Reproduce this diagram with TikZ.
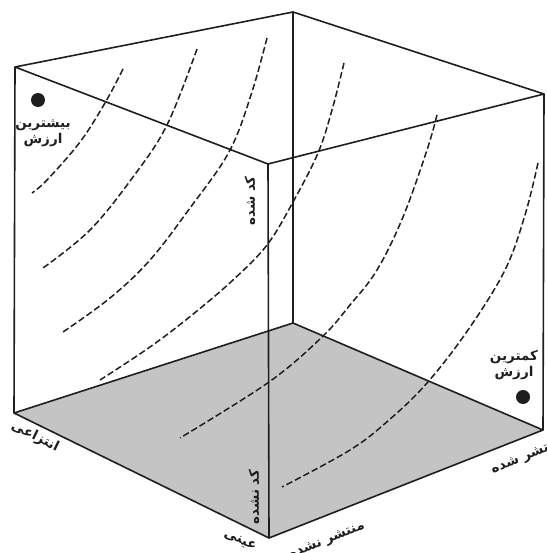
\documentclass[tikz,border=0pt]{standalone}
\usepackage{fontspec}
\newfontfamily\fa[Script=Arabic]{DejaVu Sans}
\TeXXeTstate=1
\definecolor{floorgray}{RGB}{196,196,196}
\definecolor{ink}{RGB}{30,30,30}
\begin{document}
\begin{tikzpicture}[x=1pt,y=-1pt,
  edge/.style={line width=1.6pt, draw=ink, line join=round},
  curve/.style={line width=1.5pt, draw=ink, dash pattern=on 6.5pt off 3pt},
  lbl/.style={font=\fa\bfseries\fontsize{13.5}{16}\selectfont, inner sep=0pt, align=center, text=ink},
  dot/.style={circle, fill=ink, minimum size=14pt, inner sep=0pt},
]
\useasboundingbox (0,0) rectangle (546,553);
% cube vertices
\coordinate (TL) at (15,67);
\coordinate (TB) at (293,12);
\coordinate (TR) at (544,94);
\coordinate (TF) at (268,164);
\coordinate (BL) at (14,413);
\coordinate (BB) at (293,323);
\coordinate (BR) at (543,430);
\coordinate (BF) at (269,538);
% floor
\fill[floorgray] (BL) -- (BB) -- (BR) -- (BF) -- cycle;
% dashed curves
\draw[curve] plot[smooth, tension=0.6] coordinates {(123,69) (105,103) (80,142) (47,180) (32,193)};
\draw[curve] plot[smooth, tension=0.6] coordinates {(197,49) (167,125) (133,177) (90,230) (43,268)};
\draw[curve] plot[smooth, tension=0.6] coordinates {(267,38) (251,95) (229,152) (190,208) (150,260) (110,298) (63,332)};
\draw[curve] plot[smooth, tension=0.6] coordinates {(344,63) (332,110) (318,153) (293,202) (267,245) (233,280) (192,315) (150,347) (100,380)};
\draw[curve] plot[smooth, tension=0.6] coordinates {(437,115) (427,150) (403,217) (377,270) (350,305) (322,337) (269,382) (180,438)};
\draw[curve] plot[smooth, tension=0.6] coordinates {(538,163) (525,215) (505,270) (468,330) (427,383) (389,420) (350,450) (282,487)};
% edges
\draw[edge] (TL) -- (TB) -- (TR) -- (TF) -- cycle;
\draw[edge] (BL) -- (BB) -- (BR) -- (BF) -- cycle;
\draw[edge] (TL) -- (BL);
\draw[edge] (TB) -- (BB);
\draw[edge] (TR) -- (BR);
\draw[edge] (TF) -- (BF);
% dots and labels
\node[dot] (maxdot) at (38,100) {};
\node[lbl] (maxlbl) at (43,133) {\beginR بیشترین\endR\\\beginR ارزش\endR};
\node[dot] (mindot) at (523,397) {};
\node[lbl] (minlbl) at (514,365) {\beginR کمترین\endR\\\beginR ارزش\endR};
\node[lbl, rotate=90] (cod) at (250,201) {\beginR کد شده\endR};
\node[lbl, rotate=90] (uncod) at (254,497) {\beginR کد نشده\endR};
\node[lbl, rotate=-26] (abs) at (35,437) {\beginR انتزاعی\endR};
\node[lbl, rotate=-22] (conc) at (240,541) {\beginR عینی\endR};
\node[lbl, rotate=22] (undiff) at (327,541) {\beginR منتشر نشده\endR};
\node[lbl, rotate=22] (diff) at (527,457) {\beginR منتشر شده\endR};
\end{tikzpicture}
\end{document}
